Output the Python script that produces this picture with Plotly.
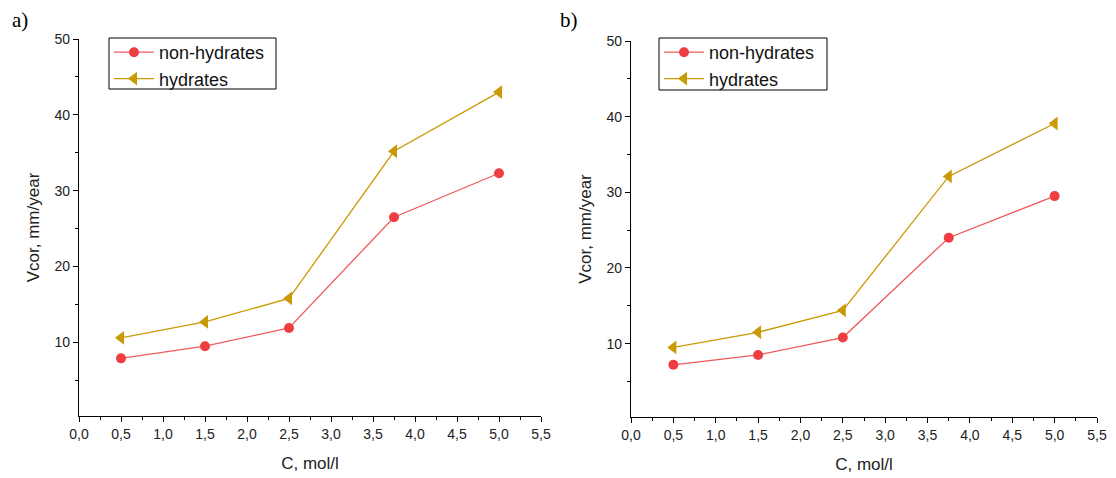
import plotly.graph_objects as go

conc = [0.5, 1.5, 2.5, 3.75, 5.0]
a_non_hydrates = [7.9, 9.5, 11.9, 26.5, 32.3]
a_hydrates = [10.6, 12.7, 15.8, 35.2, 43.0]
b_non_hydrates = [7.2, 8.5, 10.8, 24.0, 29.5]
b_hydrates = [9.5, 11.5, 14.4, 32.1, 39.1]
x_ticks = [0, 0.5, 1, 1.5, 2, 2.5, 3, 3.5, 4, 4.5, 5, 5.5]
y_ticks = [10, 20, 30, 40, 50]

RED = "#ef3e42"
RED_LINE = "#f05a5c"
GOLD = "#c99a05"
FONT = "Liberation Sans, Arial, sans-serif"

# page body has an 8px margin; figure is sized to fill the rest of the window
W, H, OFF = 1108, 470, 8
def fx(px):
    return (px - OFF) / W
def fy(py):
    return 1 - (py - OFF) / H

fig = go.Figure()

def add_panel(xa, ya, leg, non_h, hyd):
    fig.add_trace(go.Scatter(x=conc, y=non_h, mode="lines+markers", name="non-hydrates",
                             line=dict(color=RED_LINE, width=1.3),
                             marker=dict(symbol="circle", size=10, color=RED),
                             xaxis=xa, yaxis=ya, legend=leg))
    fig.add_trace(go.Scatter(x=conc, y=hyd, mode="lines+markers", name="hydrates",
                             line=dict(color=GOLD, width=1.3),
                             marker=dict(symbol="triangle-left", size=12, color=GOLD),
                             xaxis=xa, yaxis=ya, legend=leg))

add_panel("x", "y", "legend", a_non_hydrates, a_hydrates)
add_panel("x2", "y2", "legend2", b_non_hydrates, b_hydrates)

xax = dict(range=[0, 5.5], tickvals=x_ticks, tickformat=".1f", showgrid=False, zeroline=False,
           automargin=False,
           showline=True, linecolor="black", linewidth=1.2, ticks="outside", ticklen=5,
           tickcolor="black", tickfont=dict(size=14, family=FONT, color="#222"),
           minor=dict(dtick=0.25, tick0=0, ticks="outside", ticklen=3, tickcolor="black"),
           title=dict(text="C, mol/l", font=dict(size=17, family=FONT, color="#222"), standoff=16))
yax = dict(range=[0.3, 50], tickvals=y_ticks, showgrid=False, zeroline=False,
           automargin=False,
           showline=True, linecolor="black", linewidth=1.2, ticks="outside", ticklen=5,
           tickcolor="black", tickfont=dict(size=14, family=FONT, color="#222"),
           minor=dict(dtick=5, tick0=0, ticks="outside", ticklen=3, tickcolor="black"),
           title=dict(text="Vcor, mm/year", font=dict(size=17, family=FONT, color="#222"), standoff=10))

leg_common = dict(bgcolor="rgba(0,0,0,0)", borderwidth=0,
                  font=dict(size=18, family=FONT, color="#111"),
                  xanchor="left", yanchor="top", tracegroupgap=0, itemwidth=40)

box = dict(type="rect", xref="paper", yref="paper", line=dict(color="black", width=1),
           fillcolor="white", layer="below")

fig.update_layout(
    width=W, height=H,
    margin=dict(l=0, r=0, t=0, b=0),
    paper_bgcolor="white", plot_bgcolor="white",
    separators=", ",
    xaxis=dict(xax, domain=[fx(79), fx(541)], anchor="y"),
    yaxis=dict(yax, domain=[fy(416), fy(39)], anchor="x"),
    xaxis2=dict(xax, domain=[fx(631), fx(1097)], anchor="y2"),
    yaxis2=dict(yax, domain=[fy(417), fy(41)], anchor="x2"),
    legend=dict(leg_common, x=fx(109), y=fy(34)),
    legend2=dict(leg_common, x=fx(659), y=fy(34)),
    shapes=[
        dict(box, x0=fx(109), x1=fx(276), y0=fy(89), y1=fy(38)),
        dict(box, x0=fx(659), x1=fx(827), y0=fy(90), y1=fy(38)),
    ],
    annotations=[
        dict(text="a)", x=fx(10), y=fy(6), xref="paper", yref="paper", xanchor="left", yanchor="top",
             showarrow=False, font=dict(size=21, family="Liberation Serif, Times New Roman, serif", color="black")),
        dict(text="b)", x=fx(558), y=fy(6), xref="paper", yref="paper", xanchor="left", yanchor="top",
             showarrow=False, font=dict(size=21, family="Liberation Serif, Times New Roman, serif", color="black")),
    ],
)

fig.write_html("out.html")
